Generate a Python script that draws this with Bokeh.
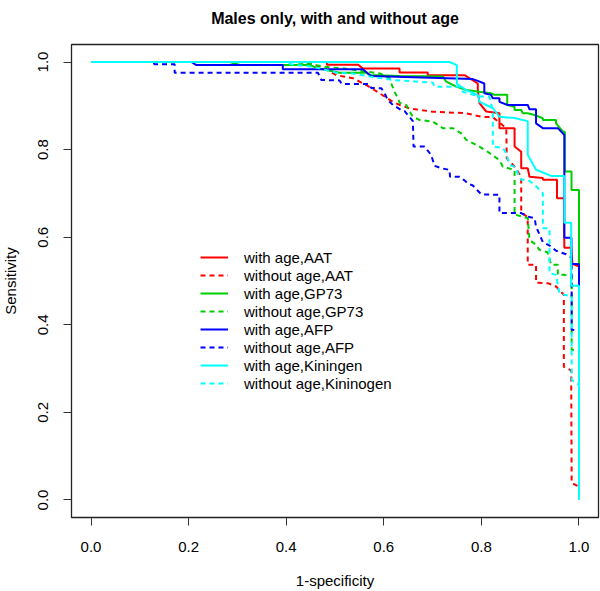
import math
from bokeh.plotting import figure
from bokeh.models import Range1d, FixedTicker, PrintfTickFormatter, Legend, LegendItem
from bokeh.embed import file_html
from bokeh.resources import INLINE

# ---------------- data ----------------
title_text = "Males only, with and without age"
x_label = "1-specificity"
y_label = "Sensitivity"
tick_values = [0.0, 0.2, 0.4, 0.6, 0.8, 1.0]

series_labels = ["with age,AAT", "without age,AAT", "with age,GP73", "without age,GP73",
                 "with age,AFP", "without age,AFP", "with age,Kiningen", "without age,Kininogen"]
series_colors = ["#FF0000", "#FF0000", "#00CD00", "#00CD00",
                 "#0000FF", "#0000FF", "#00FFFF", "#00FFFF"]
series_dashed = [False, True, False, True, False, True, False, True]

aat_with_x = [0, 0.4834, 0.4834, 0.547, 0.557, 0.6323, 0.6323, 0.690, 0.690, 0.7655, 0.7927, 0.7927,
              0.796, 0.810, 0.837, 0.837, 0.868, 0.868, 0.8816, 0.8816, 0.895, 0.8986, 0.926, 0.926,
              0.955, 0.955, 0.969, 0.970, 0.984, 0.9867, 1.0, 1.0]
aat_with_y = [1, 1, 0.994, 0.994, 0.985, 0.985, 0.976, 0.976, 0.970, 0.970, 0.951, 0.936,
              0.906, 0.887, 0.883, 0.849, 0.849, 0.807, 0.795, 0.7575, 0.7575, 0.738, 0.735, 0.731,
              0.731, 0.689, 0.689, 0.576, 0.576, 0.539, 0.533, 0.0]

aat_without_x = [0, 0.4377, 0.4644, 0.482, 0.5027, 0.5367, 0.564, 0.5914, 0.6186, 0.6323, 0.6528,
                 0.7005, 0.769, 0.7997, 0.8234, 0.851, 0.852, 0.868, 0.8816, 0.8816, 0.895, 0.895,
                 0.912, 0.912, 0.936, 0.953, 0.969, 0.969, 0.984, 0.985, 0.9955, 1.0]
aat_without_y = [1, 1, 0.991, 0.9834, 0.970, 0.963, 0.9475, 0.9286, 0.909, 0.902, 0.894,
                 0.8866, 0.883, 0.875, 0.874, 0.849, 0.780, 0.761, 0.738, 0.658, 0.645, 0.537,
                 0.537, 0.496, 0.495, 0.4875, 0.4685, 0.304, 0.296, 0.039, 0.033, 0.033]

gp73_with_x = [0, 0.284, 0.305, 0.448, 0.465, 0.5094, 0.564, 0.571, 0.6323, 0.721, 0.728, 0.7485,
               0.769, 0.796, 0.820, 0.827, 0.853, 0.853, 0.868, 0.868, 0.8816, 0.885, 0.895, 0.909,
               0.926, 0.926, 0.953, 0.953, 0.967, 0.971, 0.971, 0.9847, 0.9847, 1.0, 1.0]
gp73_with_y = [1, 1, 0.9932, 0.9932, 0.9856, 0.9756, 0.9756, 0.9703, 0.968, 0.967, 0.955, 0.9437,
               0.936, 0.932, 0.9286, 0.925, 0.925, 0.902, 0.898, 0.8905, 0.8905, 0.883, 0.883, 0.879,
               0.8716, 0.8677, 0.8677, 0.860, 0.841, 0.841, 0.750, 0.750, 0.708, 0.708, 0.0]

gp73_without_x = [0, 0.4173, 0.448, 0.4787, 0.5197, 0.5914, 0.6118, 0.6153, 0.622, 0.629, 0.6323,
                  0.646, 0.651, 0.6596, 0.673, 0.7005, 0.721, 0.7415, 0.7587, 0.769, 0.796, 0.813,
                  0.837, 0.844, 0.868, 0.868, 0.895, 0.8986, 0.912, 0.919, 0.9355, 0.943, 0.9566,
                  0.9566, 0.970, 0.985, 0.985, 1.0, 1.0]
gp73_without_y = [1, 1, 0.9955, 0.989, 0.985, 0.974, 0.963, 0.951, 0.932, 0.917, 0.907,
                  0.902, 0.8905, 0.875, 0.8677, 0.864, 0.849, 0.849, 0.837, 0.822, 0.807, 0.795,
                  0.776, 0.761, 0.7536, 0.652, 0.6435, 0.594, 0.5826, 0.571, 0.5655, 0.537, 0.537,
                  0.514, 0.514, 0.510, 0.343, 0.339, 0.0]

afp_with_x = [0, 0.2056, 0.216, 0.393, 0.393, 0.557, 0.574, 0.7825, 0.7927, 0.806, 0.806, 0.820,
              0.8234, 0.837, 0.837, 0.854, 0.895, 0.8986, 0.912, 0.912, 0.926, 0.9566, 0.9635,
              0.970, 0.970, 0.9846, 0.9846, 1.0, 1.0]
afp_with_y = [1, 1, 0.993, 0.993, 0.9834, 0.9834, 0.968, 0.961, 0.957, 0.951, 0.9286, 0.925,
              0.917, 0.917, 0.909, 0.902, 0.902, 0.892, 0.892, 0.860, 0.849, 0.849, 0.841,
              0.8335, 0.5985, 0.5985, 0.539, 0.539, 0.0]

afp_without_x = [0, 0.1264, 0.1305, 0.1714, 0.1714, 0.465, 0.472, 0.5094, 0.5135, 0.5688, 0.5744,
                 0.595, 0.6016, 0.6083, 0.6186, 0.6358, 0.6426, 0.6493, 0.6596, 0.661, 0.6835,
                 0.697, 0.704, 0.7177, 0.7347, 0.7358, 0.7552, 0.7655, 0.7716, 0.7825, 0.7927,
                 0.7997, 0.837, 0.837, 0.8816, 0.895, 0.909, 0.912, 0.926, 0.943, 0.953, 0.9738,
                 0.985, 0.985, 1.0, 1.0]
afp_without_y = [1, 1, 0.9948, 0.9948, 0.9756, 0.9756, 0.959, 0.958, 0.950, 0.950, 0.9407,
                 0.940, 0.9286, 0.913, 0.902, 0.8905, 0.888, 0.879, 0.865, 0.807, 0.807,
                 0.788, 0.763, 0.7575, 0.7536, 0.738, 0.738, 0.7297, 0.723, 0.718, 0.706,
                 0.6978, 0.6966, 0.655, 0.655, 0.647, 0.6435, 0.6243, 0.5887, 0.5787, 0.569, 0.561,
                 0.553, 0.3887, 0.3864, 0.0]

kin_with_x = [0, 0.7347, 0.7497, 0.7497, 0.769, 0.7927, 0.796, 0.8234, 0.837, 0.868, 0.895, 0.895,
              0.912, 0.943, 0.970, 0.970, 0.984, 0.984, 1.0, 1.0]
kin_with_y = [1, 1, 0.993, 0.950, 0.936, 0.925, 0.909, 0.895, 0.875, 0.872, 0.865, 0.788,
              0.754, 0.740, 0.740, 0.633, 0.633, 0.489, 0.489, 0.0]

kin_without_x = [0, 0.397, 0.413, 0.448, 0.4746, 0.5027, 0.536, 0.571, 0.6186, 0.7005, 0.704,
                 0.7552, 0.762, 0.796, 0.8167, 0.8234, 0.8234, 0.844, 0.851, 0.8576, 0.868, 0.8816,
                 0.895, 0.909, 0.926, 0.926, 0.9396, 0.9396, 0.953, 0.960, 0.970, 0.985, 0.985,
                 0.9943, 1.0, 1.0]
kin_without_y = [1, 1, 0.994, 0.990, 0.984, 0.9756, 0.974, 0.967, 0.959, 0.953, 0.9437,
                 0.9437, 0.932, 0.921, 0.921, 0.887, 0.807, 0.804, 0.792, 0.765, 0.761, 0.731,
                 0.731, 0.7195, 0.7005, 0.6207, 0.6207, 0.518, 0.514, 0.4724, 0.4685, 0.4647, 0.2746,
                 0.267, 0.263, 0.0]

series_x = [aat_with_x, aat_without_x, gp73_with_x, gp73_without_x,
            afp_with_x, afp_without_x, kin_with_x, kin_without_x]
series_y = [aat_with_y, aat_without_y, gp73_with_y, gp73_without_y,
            afp_with_y, afp_without_y, kin_with_y, kin_without_y]

# ---------------- figure ----------------
FONT = "Liberation Sans"
p = figure(width=604, height=604, output_backend="svg", toolbar_location=None,
           x_range=Range1d(-0.04, 1.04), y_range=Range1d(-0.04, 1.04),
           min_border_left=75, min_border_right=2, min_border_top=57, min_border_bottom=73,
           margin=(-13, 0, 0, -4))
p.background_fill_color = "white"
p.border_fill_color = "white"
p.outline_line_color = "#222222"
p.outline_line_width = 1.3
p.xgrid.visible = False
p.ygrid.visible = False

p.title.text = title_text
p.title.align = "center"
p.title.text_font = FONT
p.title.text_font_size = "16px"
p.title.text_font_style = "bold"
p.title.text_color = "black"
p.title.standoff = 36

for ax in (p.xaxis[0], p.yaxis[0]):
    ax.ticker = FixedTicker(ticks=tick_values)
    ax.formatter = PrintfTickFormatter(format="%.1f")
    ax.axis_line_color = None
    ax.major_tick_in = 0
    ax.major_tick_out = 8
    ax.major_tick_line_color = "#333333"
    ax.minor_tick_line_color = None
    ax.major_label_text_font = FONT
    ax.major_label_text_font_size = "15px"
    ax.major_label_text_color = "black"
    ax.axis_label_text_font = FONT
    ax.axis_label_text_font_size = "15px"
    ax.axis_label_text_font_style = "normal"
    ax.axis_label_text_color = "black"

p.xaxis[0].axis_label = x_label
p.xaxis[0].major_label_standoff = 16
p.xaxis[0].axis_label_standoff = 17
p.yaxis[0].axis_label = y_label
p.yaxis[0].major_label_orientation = "vertical"
p.yaxis[0].major_label_standoff = 15
p.yaxis[0].axis_label_standoff = 17

items = []
for xs, ys, lab, col, dashed in zip(series_x, series_y, series_labels, series_colors, series_dashed):
    r = p.line(xs, ys, line_color=col, line_width=2,
               line_dash="5 4" if dashed else "solid")
    items.append(LegendItem(label=lab, renderers=[r]))

legend = Legend(items=items, location=(129, 125), padding=0, margin=0, spacing=0,
                label_height=18, glyph_height=18, glyph_width=28, label_standoff=16,
                label_text_font=FONT, label_text_font_size="15px", label_text_color="black",
                border_line_color=None, background_fill_alpha=0)
p.add_layout(legend)

html = file_html(p, INLINE)
open("out.html", "w").write(html)
